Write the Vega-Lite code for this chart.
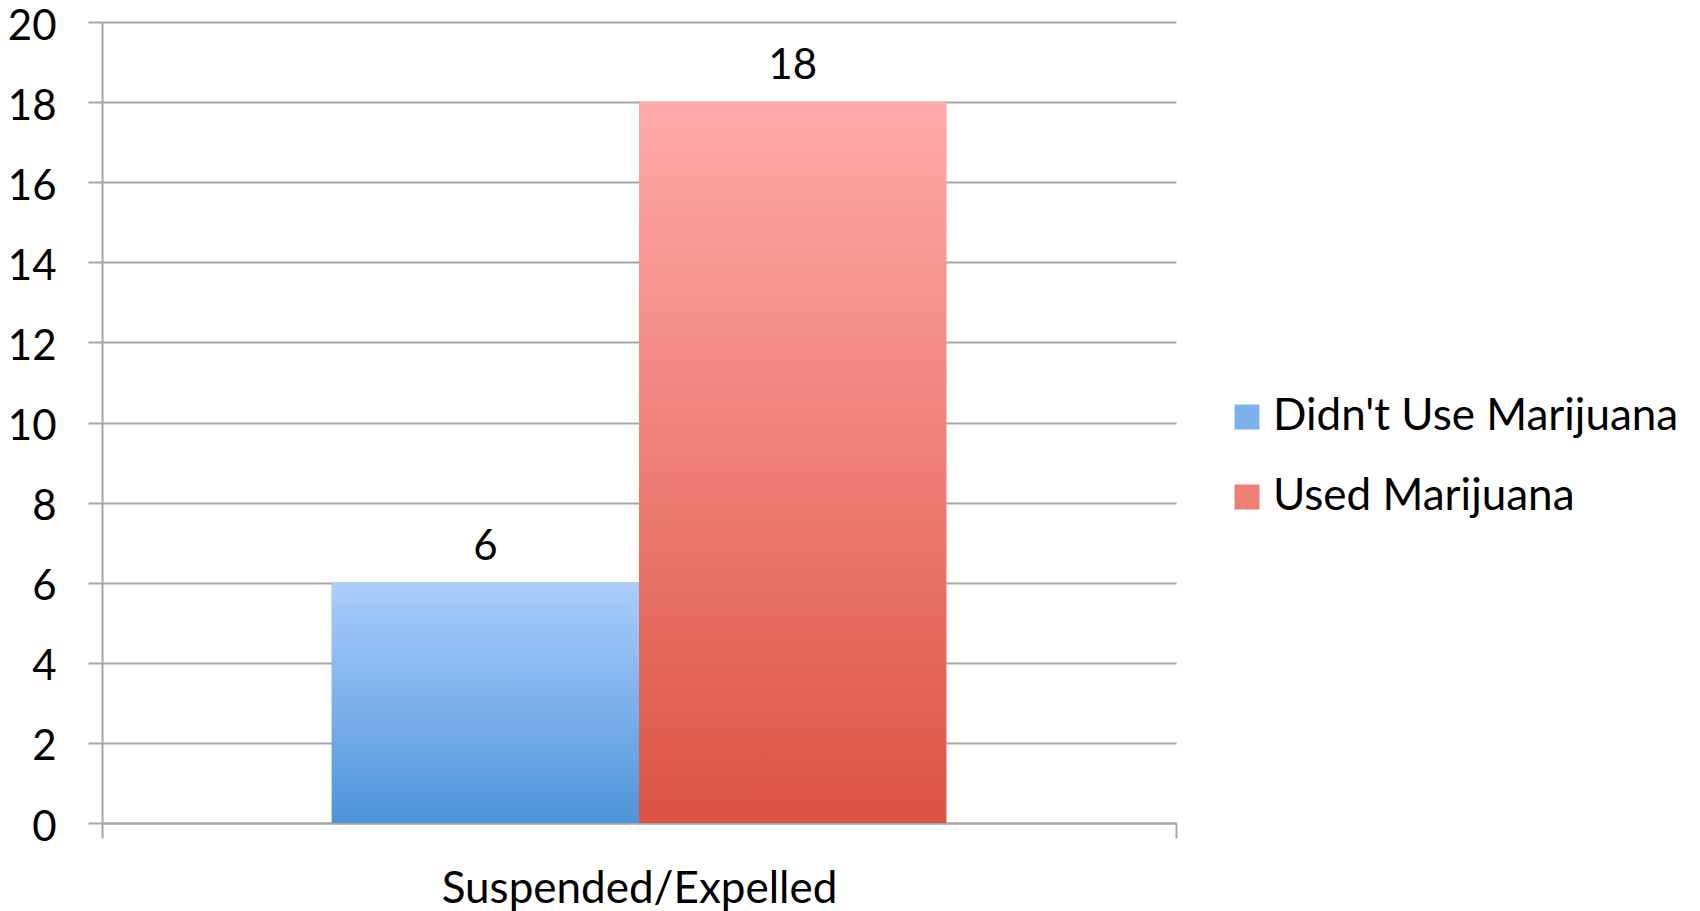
{
  "$schema": "https://vega.github.io/schema/vega-lite/v6.json",
  "width": 1074,
  "height": 801,
  "autosize": "none",
  "padding": {"left": 102, "top": 22, "right": 524, "bottom": 88},
  "background": "white",
  "config": {
    "font": "Lato",
    "view": {"stroke": null}
  },
  "data": {
    "values": [
      {"category": "Suspended/Expelled", "group": "Didn't Use Marijuana", "value": 6},
      {"category": "Suspended/Expelled", "group": "Used Marijuana", "value": 18}
    ]
  },
  "encoding": {
    "x": {
      "field": "category",
      "type": "nominal",
      "scale": {"paddingInner": 0, "paddingOuter": 0},
      "axis": {
        "title": null,
        "labelAngle": 0,
        "labelFont": "Lato",
        "labelFontSize": 44,
        "labelColor": "black",
        "labelLimit": 900,
        "labelPadding": 29,
        "tickBand": "extent",
        "tickSize": 15,
        "tickColor": "#a6a6a6",
        "tickWidth": 2,
        "domainColor": "#a6a6a6",
        "domainWidth": 2,
        "grid": false
      }
    },
    "xOffset": {
      "field": "group",
      "type": "nominal",
      "scale": {"paddingInner": 0, "paddingOuter": 0.7476}
    },
    "y": {
      "field": "value",
      "type": "quantitative",
      "scale": {"domain": [0, 20], "nice": false},
      "axis": {
        "title": null,
        "values": [0, 2, 4, 6, 8, 10, 12, 14, 16, 18, 20],
        "labelFont": "Lato",
        "labelFontSize": 42,
        "labelColor": "black",
        "labelPadding": 32,
        "labelOffset": 4,
        "tickSize": 14,
        "tickColor": "#a6a6a6",
        "tickWidth": 2,
        "domainColor": "#a6a6a6",
        "domainWidth": 2,
        "grid": true,
        "gridColor": "#a6a6a6",
        "gridWidth": 2
      }
    }
  },
  "layer": [
    {
      "mark": {"type": "bar"},
      "encoding": {
        "color": {
          "field": "group",
          "type": "nominal",
          "scale": {
            "domain": ["Didn't Use Marijuana", "Used Marijuana"],
            "range": ["#7db1eb", "#ee7f77"]
          },
          "legend": {
            "title": null,
            "orient": "none",
            "legendX": 1123,
            "legendY": 373,
            "symbolType": "square",
            "symbolSize": 625,
            "symbolStrokeWidth": 0,
            "symbolOpacity": 1,
            "labelFont": "Lato",
            "labelFontSize": 44,
            "labelColor": "black",
            "labelOffset": 4,
            "rowPadding": 36,
            "labelLimit": 600
          }
        }
      }
    },
    {
      "transform": [{"filter": "datum.group === \"Didn't Use Marijuana\""}],
      "mark": {"type": "bar", "color": {"gradient": "linear", "x1": 0, "y1": 0, "x2": 0, "y2": 1, "stops": [{"offset": 0, "color": "#abcdfd"}, {"offset": 1, "color": "#4e95d9"}]}}
    },
    {
      "transform": [{"filter": "datum.group === 'Used Marijuana'"}],
      "mark": {"type": "bar", "color": {"gradient": "linear", "x1": 0, "y1": 0, "x2": 0, "y2": 1, "stops": [{"offset": 0, "color": "#ffaba9"}, {"offset": 1, "color": "#dc5344"}]}}
    },
    {
      "mark": {"type": "text", "baseline": "alphabetic", "dy": -23, "fontSize": 42, "font": "Lato", "color": "black"},
      "encoding": {
        "text": {"field": "value", "type": "quantitative"}
      }
    }
  ]
}
